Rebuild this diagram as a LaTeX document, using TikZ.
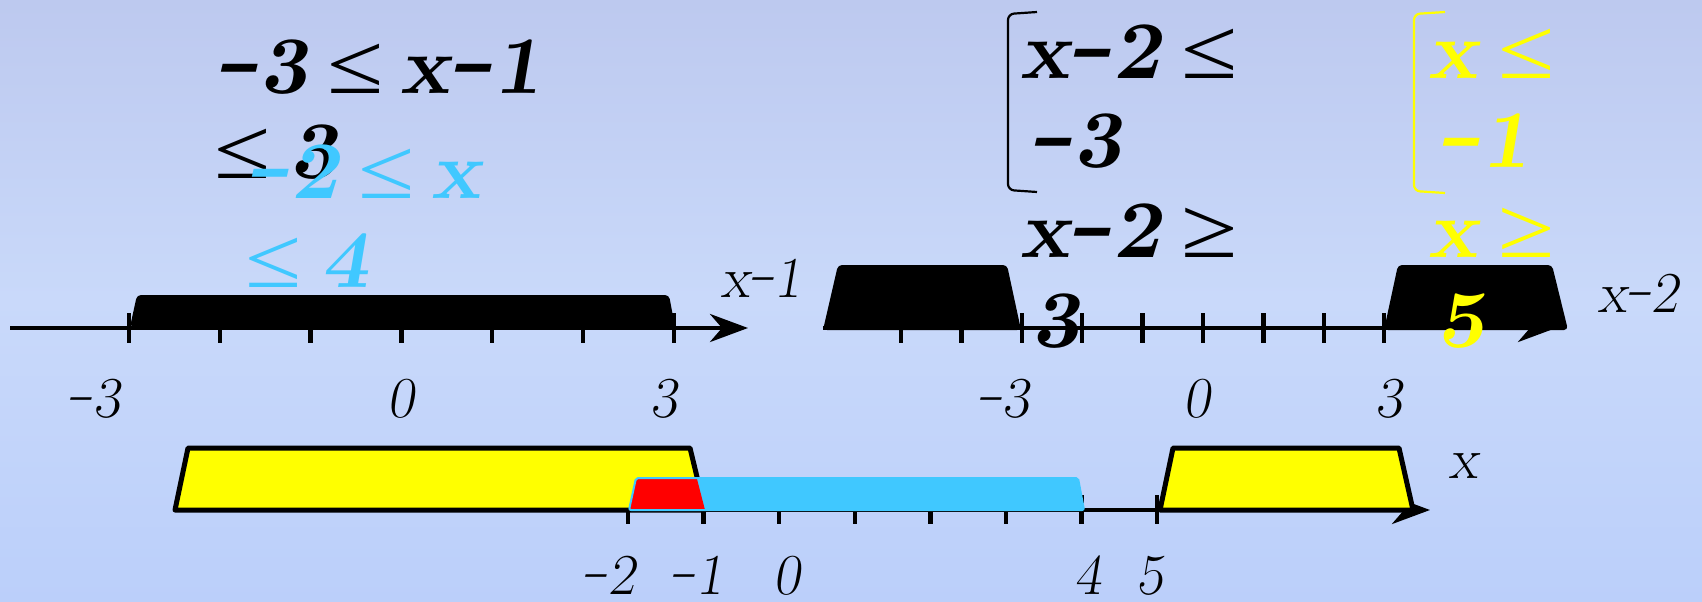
\documentclass[tikz,border=0pt]{standalone}
\usepackage{fontspec}
\usepackage{graphicx}
\newfontfamily\symf{Liberation Serif}
\usetikzlibrary{arrows.meta}
\definecolor{bgtop}{RGB}{189,201,239}
\definecolor{bgmid}{RGB}{201,217,250}
\definecolor{bgbot}{RGB}{187,207,250}
\definecolor{skyc}{RGB}{64,200,255}
\definecolor{ylw}{RGB}{255,255,0}
\newcommand\relsym[1]{\scalebox{1.25}[1.05]{\symf\mdseries\upshape #1}}
\newcommand\myle{\hspace{0.25em}\relsym{≤}\hspace{0.2em}}
\newcommand\myge{\hspace{0.25em}\relsym{≥}\hspace{0.2em}}
\newcommand\bmn{\raisebox{0.08em}{\scalebox{1.4}[1]{-}}}
\newcommand\smn{\raisebox{0.1em}{\scalebox{1.45}[1]{-}}}
\tikzset{
 bigtxt/.style={font=\fontsize{82}{82}\selectfont\bfseries\slshape, inner sep=0pt, anchor=base west},
 lab/.style={font=\fontsize{58}{58}\selectfont\slshape, inner sep=0pt, anchor=base},
 axisline/.style={line width=4.5pt, -{Stealth[length=38pt,width=28pt,inset=12pt]}},
 tickline/.style={line width=4.5pt},
 band/.style={fill=black, rounded corners=4pt},
 ybox/.style={fill=ylw, draw=black, line width=5pt, line join=round},
 brack/.style={line width=2.2pt, rounded corners=6pt},
}
\begin{document}
\begin{tikzpicture}[x=1pt,y=-1pt]
\useasboundingbox (0,0) rectangle (1702,602);
\shade[top color=bgtop, bottom color=bgmid] (0,0) rectangle (1702,300);
\shade[top color=bgmid, bottom color=bgbot] (0,300) rectangle (1702,602);

% ---------- number line 1 ----------
\coordinate (a1s) at (10,328);
\coordinate (a1e) at (748,328);
\foreach \i in {0,...,6} \draw[tickline] (129+90.8*\i,313) -- (129+90.8*\i,343);
\draw[axisline] (a1s) -- (a1e);
\fill[band] (130,327) -- (137,295) -- (669,295) -- (675,327) -- cycle;
\node[lab] (l1a) at (94,417) {\smn3};
\node[lab] (l1b) at (401,417) {0};
\node[lab] (l1c) at (664,417) {3};
\node[lab, anchor=base west] (l1x) at (721,297) {x\smn1};

% ---------- number line 2 ----------
\coordinate (a2s) at (823,328);
\coordinate (a2e) at (1556,328);
\foreach \i in {0,...,8} \draw[tickline] (901+60.4*\i,313) -- (901+60.4*\i,343);
\draw[axisline] (a2s) -- (a2e);
\fill[band] (823,330) -- (838,265) -- (1007,265) -- (1021,330) -- cycle;
\fill[band] (1384,330) -- (1398,265) -- (1552,265) -- (1568,330) -- cycle;
\node[lab] (l2a) at (1003,417) {\smn3};
\node[lab] (l2b) at (1197,417) {0};
\node[lab] (l2c) at (1389,417) {3};
\node[lab, anchor=base west] (l2x) at (1598,312) {x\smn2};

% ---------- number line 3 ----------
\coordinate (a3s) at (175,510);
\coordinate (a3e) at (1430,510);
\foreach \i in {0,...,7} \draw[tickline] (628+75.6*\i,495) -- (628+75.6*\i,524);
\draw[axisline] (a3s) -- (a3e);
\draw[ybox] (175,510) -- (188,448) -- (690,448) -- (705,510) -- cycle;
\draw[ybox] (1160,510) -- (1173,448) -- (1399,448) -- (1413,510) -- cycle;
\fill[skyc, rounded corners=2pt] (629,510) -- (636,478) -- (1078,478) -- (1084,510) -- cycle;
\fill[red] (629,510) -- (636,479) -- (697,479) -- (705,510) -- cycle;
\draw[skyc, line width=2pt, rounded corners=2pt] (629,510) -- (636,478) -- (1078,478) -- (1084,510) -- cycle;
\node[lab] (l3a) at (609,594) {\smn2};
\node[lab] (l3b) at (697,594) {\smn1};
\node[lab] (l3c) at (787,594) {0};
\node[lab] (l3d) at (1088,594) {4};
\node[lab] (l3e) at (1150,594) {5};
\node[lab, anchor=base west] (l3x) at (1449,478) {x};

% ---------- brackets ----------
\draw[brack] (1037,12) -- (1008,14) -- (1008,190) -- (1037,192);
\draw[brack, ylw] (1445,12) -- (1414,14) -- (1414,191) -- (1445,193);

% ---------- big texts ----------
\node[bigtxt] (t1) at (216,93) {\bmn3\myle x\bmn1};
\node[bigtxt] (t2) at (214,178) {\relsym{≤}\hspace{0.25em}3};
\node[bigtxt, skyc] (c1) at (247,198) {\bmn2\myle x};
\node[bigtxt, skyc] (c2) at (245,287) {\relsym{≤}\hspace{0.25em}4};
\node[bigtxt] (r1) at (1020,78) {x\bmn2\myle};
\node[bigtxt] (r2) at (1030,167) {\bmn3};
\node[bigtxt] (r3) at (1020,257) {x\bmn2\myge};
\node[bigtxt] (r4) at (1032,347) {3};
\node[bigtxt, ylw] (y1) at (1428,78) {x\myle};
\node[bigtxt, ylw] (y2) at (1438,167) {\bmn1};
\node[bigtxt, ylw] (y3) at (1428,257) {x\myge};
\node[bigtxt, ylw] (y4) at (1437,347) {5};
\end{tikzpicture}
\end{document}
